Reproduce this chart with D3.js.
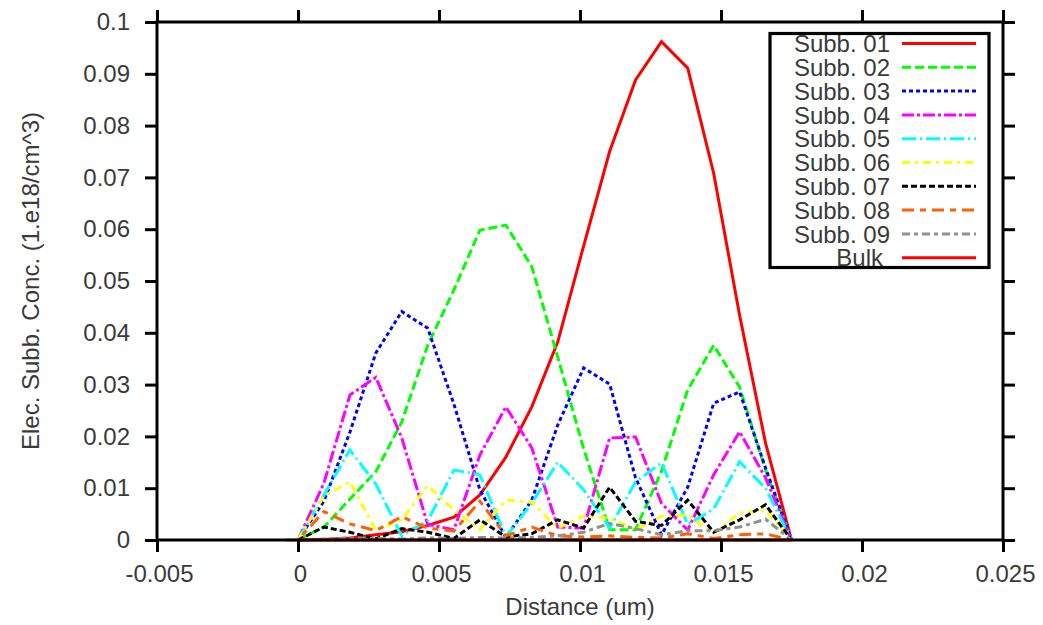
<!DOCTYPE html>
<html>
<head>
<meta charset="utf-8">
<script src="https://cdn.jsdelivr.net/npm/d3@7"></script>
<style>
  html, body { margin: 0; padding: 0; background: #ffffff; }
  svg { display: block; font-family: "Liberation Sans", Arial, Helvetica, sans-serif; }
  .tick text { fill: #3a3a3a; font-size: 24px; }
  .axis-title, .legend text { fill: #3a3a3a; font-size: 24px; }
</style>
</head>
<body>
<svg id="chart" width="1043" height="625"></svg>
<script>
// Mesh positions along the device (um); the first node is only used by Subb. 08
const distance = [-0.0004, 0, 0.00092, 0.00184, 0.00276, 0.00368, 0.0046, 0.00553, 0.00645, 0.00737,
  0.00829, 0.00921, 0.01013, 0.01105, 0.01197, 0.01289, 0.01382, 0.01474, 0.01566, 0.01658, 0.0175];

// Electron subband concentrations (1e18/cm^3) at each mesh node
const subb01 = [null, 0, 0.0001, 0.0004, 0.001, 0.0016, 0.0028, 0.0044, 0.0087, 0.016, 0.0257, 0.0382, 0.0568, 0.075, 0.0888, 0.0962, 0.0911, 0.0708, 0.0434, 0.0187, 0];
const subb02 = [null, 0, 0.0025, 0.0079, 0.0132, 0.0228, 0.0376, 0.0483, 0.0598, 0.0608, 0.0528, 0.0353, 0.0176, 0.002, 0.002, 0.0133, 0.029, 0.0376, 0.0295, 0.0135, 0];
const subb03 = [null, 0, 0.0075, 0.0208, 0.0361, 0.0441, 0.0409, 0.0262, 0.0097, 0.0005, 0.0077, 0.0222, 0.0332, 0.0301, 0.012, 0.001, 0.0102, 0.0264, 0.0286, 0.0139, 0];
const subb04 = [null, 0, 0.011, 0.028, 0.0314, 0.0197, 0.003, 0.002, 0.0164, 0.0257, 0.0178, 0.0025, 0.0023, 0.0197, 0.0199, 0.0071, 0.0019, 0.0126, 0.0209, 0.012, 0];
const subb05 = [null, 0, 0.0087, 0.0174, 0.0108, 0.0008, 0.0037, 0.0135, 0.0126, 0.0006, 0.0071, 0.015, 0.0097, 0.0023, 0.0112, 0.0149, 0.003, 0.006, 0.0151, 0.01, 0];
const subb06 = [null, 0, 0.0085, 0.0112, 0.0019, 0.0039, 0.0105, 0.0058, 0.002, 0.0077, 0.0073, 0.0023, 0.0046, 0.0042, 0.002, 0.0046, 0.0048, 0.0013, 0.0052, 0.0058, 0];
const subb07 = [null, 0, 0.0025, 0.0015, 0.0002, 0.0022, 0.0015, 0.0003, 0.0039, 0.0006, 0.0012, 0.0039, 0.0023, 0.0102, 0.0036, 0.0028, 0.0077, 0.0015, 0.0039, 0.0068, 0];
const subb08 = [0, 0, 0.0055, 0.0031, 0.0018, 0.0045, 0.0023, 0.0017, 0.0075, 0.0008, 0.0025, 0.0008, 0.0006, 0.0008, 0.0005, 0.0004, 0.0012, 0.0003, 0.001, 0.0012, 0];
const subb09 = [null, 0, 0.0002, 0.0004, 0.0003, 0.0002, 0.0004, 0.0003, 0.0005, 0.0004, 0.0005, 0.0008, 0.0015, 0.0032, 0.0022, 0.001, 0.0018, 0.0018, 0.0025, 0.004, 0];
const bulk   = [null, 0, 0, 0, 0, 0, 0, 0, 0, 0, 0, 0, 0, 0, 0, 0, 0, 0, 0, 0, 0];

const seriesNames = ["Subb. 01", "Subb. 02", "Subb. 03", "Subb. 04", "Subb. 05",
  "Subb. 06", "Subb. 07", "Subb. 08", "Subb. 09", "Bulk"];
const seriesValues = [subb01, subb02, subb03, subb04, subb05, subb06, subb07, subb08, subb09, bulk];

const xTicks = [-0.005, 0, 0.005, 0.01, 0.015, 0.02, 0.025];
const yTicks = [0, 0.01, 0.02, 0.03, 0.04, 0.05, 0.06, 0.07, 0.08, 0.09, 0.1];

// Line styles for each curve
const colors = ["#ff0000", "#00ff00", "#0000ff", "#ff00ff", "#00ffff",
  "#ffff00", "#000000", "#ff6000", "#909090", "#ff0000"];
const dashes = [null, "9,4", "4,3", "12,3,3,3", "14,4,2,4",
  "8,5,3,5", "6,3", "12,6,6,6", "8,4,4,4", null];

const svg = d3.select("#chart");
const plotLeft = 157, plotRight = 1003, plotTop = 22, plotBottom = 540;

const x = d3.scaleLinear().domain([-0.005, 0.025]).range([plotLeft, plotRight]);
const y = d3.scaleLinear().domain([0, 0.1]).range([plotBottom, plotTop]);

const fmt = d => String(d);

// Curves
const line = d3.line()
  .defined(d => d[1] !== null)
  .x(d => x(d[0]))
  .y(d => y(d[1]));

const curves = svg.append("g").attr("class", "curves");
seriesValues.forEach((vals, i) => {
  const pts = distance.map((dx, j) => [dx, vals[j]]);
  curves.append("path")
    .datum(pts)
    .attr("d", line)
    .attr("fill", "none")
    .attr("stroke", colors[i])
    .attr("stroke-width", 3)
    .attr("stroke-linejoin", "miter")
    .attr("stroke-dasharray", dashes[i]);
});

// Axes with outward ticks on all four sides
const tickLen = 12;
function styleAxis(g) {
  g.select(".domain").remove();
  g.selectAll(".tick line").attr("stroke", "#000").attr("stroke-width", 3);
}

svg.append("g")
  .attr("transform", `translate(${plotLeft},0)`)
  .call(d3.axisLeft(y).tickValues(yTicks).tickFormat(fmt).tickSize(tickLen).tickPadding(15))
  .call(styleAxis);

svg.append("g")
  .attr("transform", `translate(${plotRight},0)`)
  .call(d3.axisRight(y).tickValues(yTicks).tickSize(tickLen).tickFormat(""))
  .call(styleAxis);

const xAxisG = svg.append("g")
  .attr("transform", `translate(0,${plotBottom})`)
  .call(d3.axisBottom(x).tickValues(xTicks).tickFormat(fmt).tickSize(tickLen).tickPadding(13))
  .call(styleAxis);
xAxisG.selectAll(".tick text").attr("dx", 2);

svg.append("g")
  .attr("transform", `translate(0,${plotTop})`)
  .call(d3.axisTop(x).tickValues(xTicks).tickSize(tickLen).tickFormat(""))
  .call(styleAxis);

svg.selectAll(".tick text").attr("font-family", null).attr("font-size", null);

// Plot frame
svg.append("rect")
  .attr("x", plotLeft).attr("y", plotTop)
  .attr("width", plotRight - plotLeft).attr("height", plotBottom - plotTop)
  .attr("fill", "none").attr("stroke", "#000").attr("stroke-width", 3);

// Axis titles
svg.append("text")
  .attr("class", "axis-title")
  .attr("transform", "translate(39,281) rotate(-90)")
  .attr("text-anchor", "middle")
  .text("Elec. Subb. Conc. (1.e18/cm^3)");

svg.append("text")
  .attr("class", "axis-title")
  .attr("x", (plotLeft + plotRight) / 2)
  .attr("y", 615)
  .attr("text-anchor", "middle")
  .text("Distance (um)");

// Legend
const legend = svg.append("g").attr("class", "legend");
legend.append("rect")
  .attr("x", 770).attr("y", 33.5)
  .attr("width", 219).attr("height", 234)
  .attr("fill", "#fff").attr("stroke", "#000").attr("stroke-width", 3.2);

seriesNames.forEach((name, i) => {
  const ly = 43.5 + i * 23.8;
  legend.append("text")
    .attr("x", name === "Bulk" ? 883 : 890).attr("y", ly)
    .attr("dy", "0.36em")
    .attr("text-anchor", "end")
    .text(name);
  legend.append("line")
    .attr("x1", 902).attr("x2", 976)
    .attr("y1", ly).attr("y2", ly)
    .attr("stroke", colors[i])
    .attr("stroke-width", 3)
    .attr("stroke-dasharray", dashes[i]);
});
</script>
</body>
</html>
